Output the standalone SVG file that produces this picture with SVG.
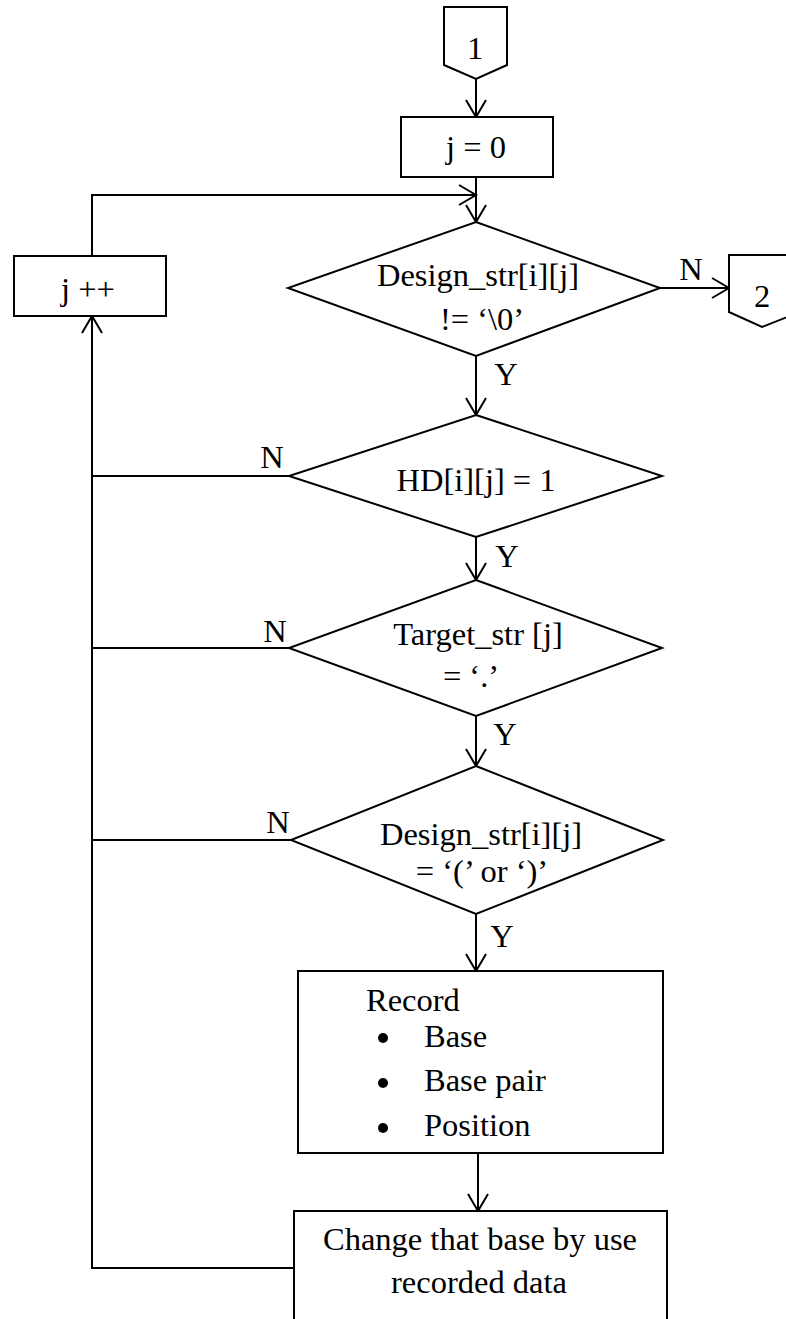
<svg xmlns="http://www.w3.org/2000/svg" width="786" height="1319" viewBox="0 0 786 1319">
<defs>
<style>
.s{fill:#fff;stroke:#000;stroke-width:2}
.c{fill:none;stroke:#000;stroke-width:2}
text{font-family:"Liberation Serif","Times New Roman",serif;font-size:32.5px;fill:#000}
.m{text-anchor:middle}
</style>
<marker id="arr" markerUnits="userSpaceOnUse" viewBox="-19 -12 21 24" markerWidth="21" markerHeight="24" refX="0" refY="0" orient="auto">
<path d="M-17,-10 L0,0 L-17,10" fill="none" stroke="#000" stroke-width="2"/>
</marker>
</defs>
<rect width="786" height="1319" fill="#fff"/>
<g id="connectors">
<line class="c" x1="476" y1="79" x2="476" y2="117" marker-end="url(#arr)"/>
<line class="c" x1="476" y1="177" x2="476" y2="222" marker-end="url(#arr)"/>
<path class="c" d="M92,256 V195 H476" marker-end="url(#arr)"/>
<line class="c" x1="660" y1="288" x2="729" y2="288" marker-end="url(#arr)"/>
<line class="c" x1="476" y1="356" x2="476" y2="415" marker-end="url(#arr)"/>
<line class="c" x1="476" y1="537" x2="476" y2="580" marker-end="url(#arr)"/>
<line class="c" x1="476" y1="716" x2="476" y2="766" marker-end="url(#arr)"/>
<line class="c" x1="476" y1="914" x2="476" y2="971" marker-end="url(#arr)"/>
<line class="c" x1="478" y1="1153" x2="478" y2="1211" marker-end="url(#arr)"/>
<path class="c" d="M294,1268 H92 V316" marker-end="url(#arr)"/>
<line class="c" x1="289" y1="476" x2="92" y2="476"/>
<line class="c" x1="289" y1="648" x2="92" y2="648"/>
<line class="c" x1="291" y1="840" x2="92" y2="840"/>
<text x="691" y="280" class="m">N</text>
<text x="506" y="385" class="m">Y</text>
<text x="272" y="468" class="m">N</text>
<text x="507" y="567" class="m">Y</text>
<text x="275" y="642" class="m">N</text>
<text x="505" y="745" class="m">Y</text>
<text x="278" y="833" class="m">N</text>
<text x="502" y="947" class="m">Y</text>
</g>
<g id="conn1">
<path class="s" d="M444,7 H507 V65 L476,79 L444,65 Z"/>
<text x="475" y="59" class="m">1</text>
</g>
<g id="init">
<rect class="s" x="401" y="117" width="152" height="60"/>
<text x="476" y="158" class="m">j = 0</text>
</g>
<g id="incr">
<rect class="s" x="14" y="256" width="152" height="60"/>
<text x="88" y="300" class="m">j ++</text>
</g>
<g id="dec1">
<path class="s" d="M476,222 L660,288 L476,356 L288,288 Z"/>
<text x="478" y="286" class="m">Design_str[i][j]</text>
<text x="482" y="330" class="m">!= ‘\0’</text>
</g>
<g id="conn2">
<path class="s" d="M729,255 H800 V312 L762,327 L729,312 Z"/>
<text x="762" y="307" class="m">2</text>
</g>
<g id="dec2">
<path class="s" d="M476,415 L662,476 L476,537 L289,476 Z"/>
<text x="476" y="491" class="m">HD[i][j] = 1</text>
</g>
<g id="dec3">
<path class="s" d="M476,580 L662,648 L476,716 L289,648 Z"/>
<text x="478" y="645" class="m">Target_str [j]</text>
<text x="471" y="687" class="m">= ‘.’</text>
</g>
<g id="dec4">
<path class="s" d="M476,766 L663,840 L476,914 L291,840 Z"/>
<text x="481" y="845" class="m">Design_str[i][j]</text>
<text x="482" y="882" class="m">= ‘(’ or ‘)’</text>
</g>
<g id="record">
<rect class="s" x="298" y="971" width="365" height="182"/>
<text x="366" y="1011">Record</text>
<circle cx="383" cy="1038" r="5"/>
<circle cx="383" cy="1083" r="5"/>
<circle cx="383" cy="1128" r="5"/>
<text x="424" y="1047">Base</text>
<text x="424" y="1091">Base pair</text>
<text x="424" y="1136">Position</text>
</g>
<g id="change">
<rect class="s" x="294" y="1211" width="373" height="130"/>
<text x="480" y="1250" class="m">Change that base by use</text>
<text x="479" y="1293" class="m">recorded data</text>
</g>
</svg>
